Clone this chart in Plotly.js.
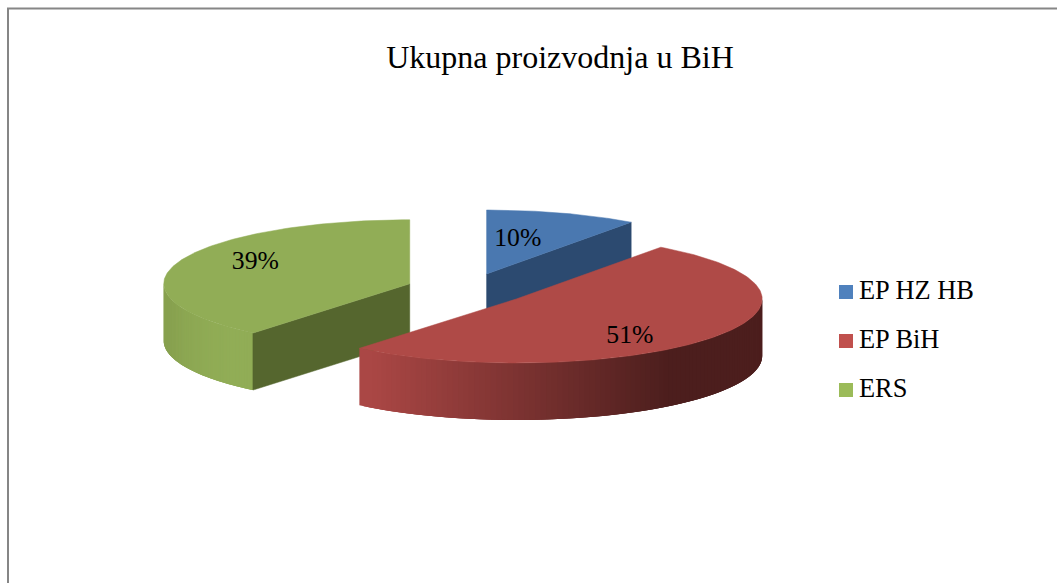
<!DOCTYPE html>
<html>
<head>
<meta charset="utf-8">
<script src="https://cdn.plot.ly/plotly-3.0.1.min.js"></script>
<style>html,body{margin:0;padding:0;background:#fff;overflow:hidden}</style>
</head>
<body>
<div id="chart" style="width:1057px;height:583px"></div>
<script>
// ---- data ----
var categories = ['EP HZ HB', 'EP BiH', 'ERS'];
var shares = [10, 51, 39];
var chartTitle = 'Ukupna proizvodnja u BiH';

// ---- styles ----
var topColors = ['#4A78B0', '#AF4A47', '#91AD56'];
var cutColors = ['#2C4A70', '#4C1E1D', '#55662E'];
var legendColors = ['#4F81BD', '#C0504D', '#9BBB59'];
var FONT = '"Liberation Serif", "Times New Roman", serif';

// ---- 3D pie geometry (pixel-scaled hidden axes) ----
var BX = 467.6, BY = 289.2, RX = 246, RY = 64, DEPTH = 57, EXPLODE = 0.25;
var labelFrac = [[0.41, 0.57], [0.585, 0.96], [0.667, 1.0]];
var legendX = 846, legendY = [292, 341, 390], legendTextX = 859;

var total = shares.reduce(function (a, b) { return a + b; }, 0);
var slices = [], acc = 0;
shares.forEach(function (v) {
  var a0 = acc / total * 2 * Math.PI;
  acc += v;
  var a1 = acc / total * 2 * Math.PI;
  var mid = (a0 + a1) / 2;
  slices.push({
    a0: a0, a1: a1, mid: mid,
    cx: BX + EXPLODE * RX * Math.sin(mid),
    cy: BY - EXPLODE * RY * Math.cos(mid)
  });
});
function pt(s, a) { return [s.cx + RX * Math.sin(a), s.cy - RY * Math.cos(a)]; }
function hex(c) { return [1, 3, 5].map(function (i) { return parseInt(c.substr(i, 2), 16); }); }
function mix(c1, c2, t) {
  var a = hex(c1), b = hex(c2);
  return 'rgb(' + a.map(function (v, i) { return Math.round(v + (b[i] - v) * t); }).join(',') + ')';
}
function poly(xs, ys, color, noLine) {
  return {
    type: 'scatter', mode: 'lines', x: xs, y: ys, fill: 'toself', fillcolor: color,
    line: { color: color, width: noLine ? 0 : 0.5 }, hoverinfo: 'skip', showlegend: false
  };
}
function arcSide(s, from, to, colorAt) {
  var out = [], n = 100;
  for (var i = 0; i < n; i++) {
    // each strip reaches back under the one painted before it, so no seams show
    var a = from + (to - from) * Math.max(0, i - 2) / n, b = from + (to - from) * (i + 1) / n;
    var p = pt(s, a), q = pt(s, b);
    var c = pt(s, from + (to - from) * (i + 0.5) / n)[0];
    out.push(poly([p[0], q[0], q[0], p[0], p[0]], [p[1], q[1], q[1] + DEPTH, p[1] + DEPTH, p[1]],
      colorAt(c), true));
  }
  return out;
}
function cutFace(s, a, color) {
  var p = pt(s, a);
  return poly([s.cx, p[0], p[0], s.cx, s.cx], [s.cy, p[1], p[1] + DEPTH, s.cy + DEPTH, s.cy], color);
}
function topFace(s, color) {
  var xs = [s.cx], ys = [s.cy], n = 160;
  for (var i = 0; i <= n; i++) {
    var p = pt(s, s.a0 + (s.a1 - s.a0) * i / n);
    xs.push(p[0]); ys.push(p[1]);
  }
  xs.push(s.cx); ys.push(s.cy);
  return poly(xs, ys, color);
}

var traces = [];
// green slice (back left)
var g = slices[2];
traces = traces.concat(arcSide(g, g.a0, 1.5 * Math.PI, function (x) {
  var p = pt(g, g.a0)[0], l = g.cx - RX;
  return mix('#91AD56', '#869F4E', Math.pow((p - x) / (p - l), 3));
}));
traces.push(cutFace(g, g.a0, cutColors[2]));
traces.push(topFace(g, topColors[2]));
// blue slice (back right)
var b = slices[0];
traces.push(cutFace(b, b.a1, cutColors[0]));
traces.push(topFace(b, topColors[0]));
// red slice (front)
var r = slices[1];
var rLeft = pt(r, r.a1)[0];
traces = traces.concat(arcSide(r, 0.5 * Math.PI, r.a1, function (x) {
  var t = Math.min(1, (x - rLeft) / 300);
  return mix('#AB4745', cutColors[1], t);
}));
traces.push(topFace(r, topColors[1]));

// percentage labels
traces.push({
  type: 'scatter', mode: 'text', hoverinfo: 'skip', showlegend: false,
  x: slices.map(function (s, i) { return s.cx + labelFrac[i][0] * RX * Math.sin(s.mid); }),
  y: slices.map(function (s, i) { return s.cy - labelFrac[i][1] * RY * Math.cos(s.mid); }),
  text: shares.map(function (v) { return v + '%'; }),
  textposition: 'middle center',
  textfont: { family: FONT, size: 25.7, color: '#000' }
});
// legend swatches and names
traces.push({
  type: 'scatter', mode: 'markers', hoverinfo: 'skip', showlegend: false,
  x: categories.map(function () { return legendX; }), y: legendY,
  marker: { symbol: 'square', size: 14, color: legendColors, line: { width: 0 } }
});
traces.push({
  type: 'scatter', mode: 'text', hoverinfo: 'skip', showlegend: false,
  x: categories.map(function () { return legendTextX; }), y: legendY,
  text: categories, textposition: 'middle right',
  textfont: { family: FONT, size: 26.4, color: '#000' }
});

var hiddenAxis = { visible: false, fixedrange: true, showgrid: false, zeroline: false };
var layout = {
  width: 1057, height: 583,
  margin: { l: 0, r: 0, t: 0, b: 0, pad: 0 },
  paper_bgcolor: '#fff', plot_bgcolor: '#fff',
  showlegend: false,
  title: {
    text: chartTitle, x: 560 / 1057, xanchor: 'center', y: 1 - 56.5 / 583, yanchor: 'middle',
    font: { family: FONT, size: 32, color: '#000' }
  },
  xaxis: Object.assign({ range: [0, 1057], domain: [0, 1] }, hiddenAxis),
  yaxis: Object.assign({ range: [583, 0], domain: [0, 1] }, hiddenAxis),
  shapes: [
    { type: 'line', xref: 'paper', yref: 'paper', x0: 8 / 1057, x1: 8 / 1057, y0: 0, y1: 1 - 8 / 583, line: { color: '#868686', width: 2 } },
    { type: 'line', xref: 'paper', yref: 'paper', x0: 7 / 1057, x1: 1, y0: 1 - 8.5 / 583, y1: 1 - 8.5 / 583, line: { color: '#868686', width: 2 } }
  ]
};
Plotly.newPlot('chart', traces, layout, { displayModeBar: false, staticPlot: true });
</script>
</body>
</html>
